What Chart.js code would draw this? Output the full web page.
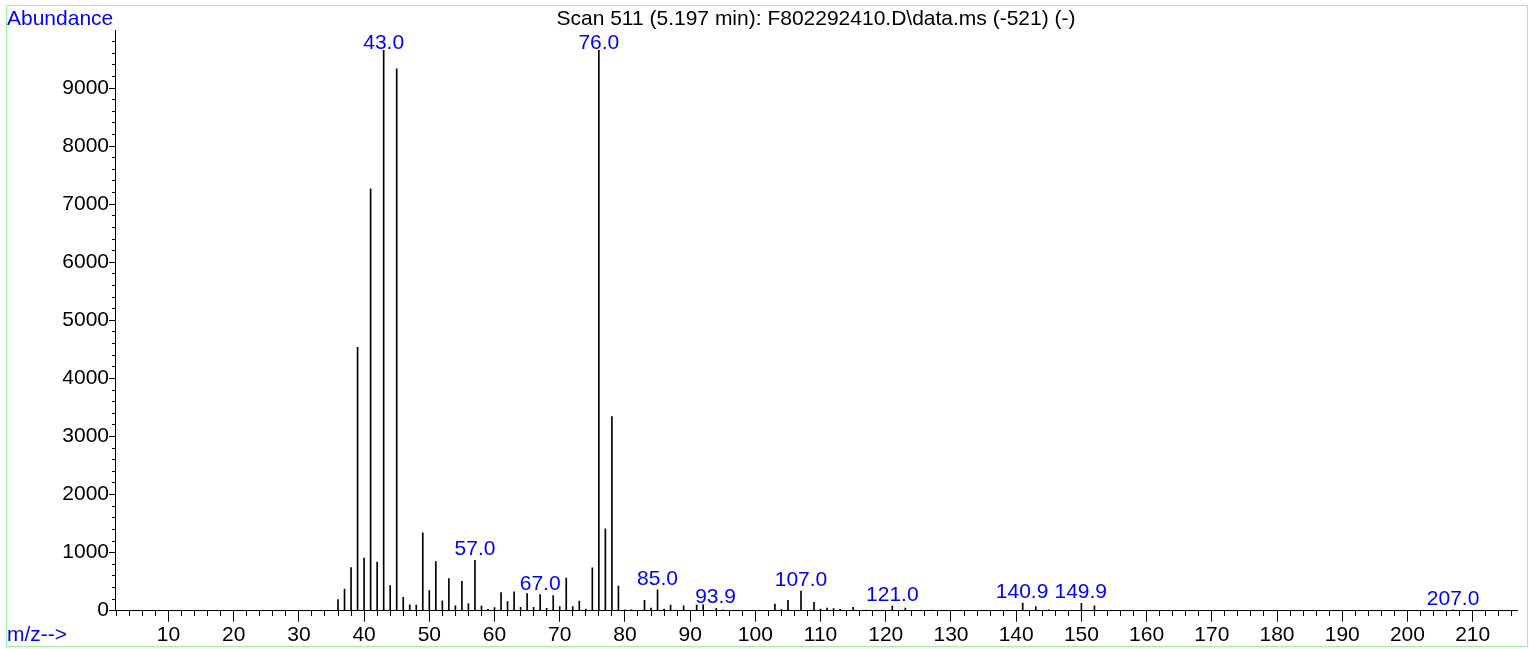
<!DOCTYPE html>
<html><head><meta charset="utf-8">
<script src="https://cdn.jsdelivr.net/npm/chart.js@4.4.1/dist/chart.umd.min.js"></script>
<style>
html,body{margin:0;padding:0;background:#fff;}
#wrap{position:absolute;left:0;top:0;width:1529px;height:649px;}
#frame{position:absolute;left:6px;top:5px;width:1522px;height:642px;border:1px solid #a0f0a0;box-sizing:border-box;pointer-events:none;}
canvas{display:block;}
</style></head><body>
<div id="wrap"><canvas id="c" width="1529" height="649"></canvas><div id="frame"></div></div>
<script>
// m/z values and abundances
const mz = [36,37,38,39,40,41,42,43,44,45,46,47,48,49,50,51,52,53,54,55,56,57,58,59,60,
  61,62,63,64,65,66,67,68,69,70,71,72,73,74,75,76,77,78,79,80,81,83,84,85,86,87,88,89,91,92,
  94,95,103,104,105,107,109,110,111,112,113,115,117,121,123,127,141,143,145,150,152,207];
const abundance = [190,374,741,4535,908,7265,839,9990,431,9330,230,103,98,1340,345,845,172,552,86,506,121,868,80,23,55,
  310,155,327,57,293,57,276,40,259,69,563,69,167,29,740,9970,1410,3345,425,17,14,180,46,360,26,98,12,86,103,126,
  40,17,115,20,180,339,145,29,46,35,23,57,12,80,46,12,132,69,17,126,86,15];
// peak annotations
const peakLabels = ['43.0','57.0','67.0','76.0','85.0','93.9','107.0','121.0','140.9','149.9','207.0'];
const peakLabelMz = [43.0,57.0,67.0,76.0,85.0,93.9,107.0,121.0,140.9,149.9,207.0];
// axis ticks
const xMajorTicks = [10,20,30,40,50,60,70,80,90,100,110,120,130,140,150,160,170,180,190,200,210];
const xMinorTicks = [];
for (let v = 2; v <= 216; v += 2) xMinorTicks.push(v);
const yMajorTicks = [0,1000,2000,3000,4000,5000,6000,7000,8000,9000];
const yMinorTicks = [];
for (let v = 0; v <= 9800; v += 200) yMinorTicks.push(v);
const X_MIN = 1.8, X_MAX = 216.8, Y_MIN = 0, Y_MAX = 10000;
const titleText = 'Scan 511 (5.197 min): F802292410.D\\data.ms (-521) (-)';
const yAxisTitle = 'Abundance';
const xAxisTitle = 'm/z-->';

const FONT = '"Liberation Sans", Arial, sans-serif';
const BLUE = '#0000ff';

const textPlugin = {
  id: 'texts',
  afterDatasetsDraw(chart) {
    const {ctx, chartArea, scales} = chart;
    const x = scales.x, y = scales.y;
    ctx.save();
    ctx.font = '21px ' + FONT;
    ctx.textBaseline = 'alphabetic';
    peakLabelMz.forEach((m, i) => {
      const idx = mz.indexOf(Math.round(m));
      const top = y.getPixelForValue(abundance[idx]);
      const base = Math.max(top - 5, chartArea.top + 19);
      const px = x.getPixelForValue(m);
      const w = ctx.measureText(peakLabels[i]).width;
      ctx.fillStyle = '#fff';
      ctx.fillRect(px - w / 2 - 1, base - 20, w + 2, 21);
      ctx.fillStyle = BLUE;
      ctx.textAlign = 'center';
      ctx.fillText(peakLabels[i], px, base);
    });
    ctx.textAlign = 'left';
    ctx.fillStyle = BLUE;
    ctx.fillText(yAxisTitle, 7, 25);
    ctx.fillText(xAxisTitle, 7, 641);
    ctx.fillStyle = '#000';
    ctx.textAlign = 'center';
    ctx.fillText(titleText, (chartArea.left + chartArea.right) / 2, 25);
    ctx.restore();
  }
};

function setTicks(list) {
  return (scale) => { scale.ticks = list.map(v => ({value: v})); };
}
const plain = (v) => String(v);

new Chart(document.getElementById('c'), {
  type: 'bar',
  data: {
    datasets: [{
      data: mz.map((m, i) => ({x: m, y: abundance[i]})),
      backgroundColor: '#000',
      borderWidth: 0,
      barThickness: 1,
      grouped: false
    }]
  },
  options: {
    responsive: false,
    animation: false,
    devicePixelRatio: 1,
    layout: {padding: {left: 0, right: 12, top: 30, bottom: 0}},
    plugins: {legend: {display: false}, tooltip: {enabled: false}, title: {display: false}},
    scales: {
      x: {
        type: 'linear', min: X_MIN, max: X_MAX, position: 'bottom', offset: false,
        afterBuildTicks: setTicks(xMajorTicks),
        afterFit: (s) => { s.height = 38.3; },
        grid: {drawOnChartArea: false, offset: false, tickLength: 11, color: '#000', tickWidth: 1},
        border: {color: '#000', width: 1},
        ticks: {font: {family: FONT, size: 21}, color: '#000', padding: 1, maxRotation: 0, autoSkip: false, callback: plain}
      },
      xMinor: {
        type: 'linear', min: X_MIN, max: X_MAX, position: {y: 0}, offset: false,
        afterBuildTicks: setTicks(xMinorTicks),
        grid: {drawOnChartArea: false, offset: false, tickLength: 5, color: '#000', tickWidth: 1},
        border: {display: false},
        ticks: {display: false}
      },
      y: {
        type: 'linear', min: Y_MIN, max: Y_MAX, position: 'left',
        afterBuildTicks: setTicks(yMajorTicks),
        afterFit: (s) => { s.width = 115; },
        grid: {drawOnChartArea: false, tickLength: 6, color: '#000', tickWidth: 1},
        border: {color: '#000', width: 1},
        ticks: {font: {family: FONT, size: 21}, color: '#000', padding: 0, callback: plain}
      },
      yMinor: {
        type: 'linear', min: Y_MIN, max: Y_MAX, position: {x: X_MIN},
        afterBuildTicks: setTicks(yMinorTicks),
        grid: {drawOnChartArea: false, tickLength: 3, color: '#000', tickWidth: 1},
        border: {display: false},
        ticks: {display: false}
      }
    }
  },
  plugins: [textPlugin]
});
</script>
</body></html>
